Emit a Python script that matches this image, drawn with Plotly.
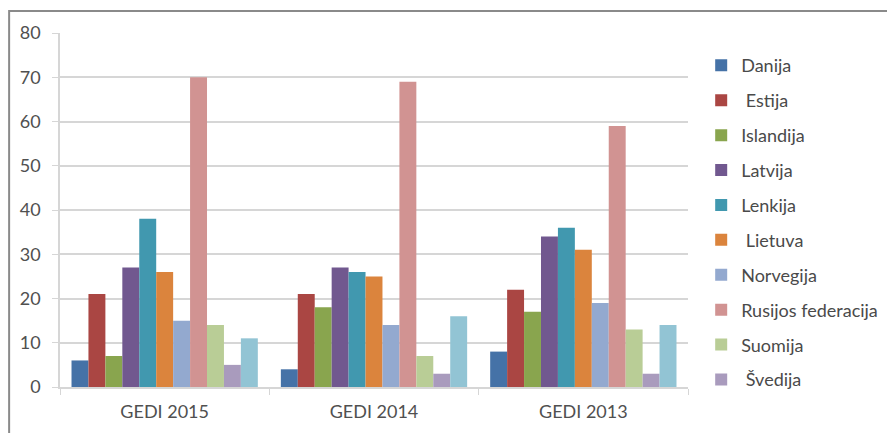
import plotly.graph_objects as go

# categories (x axis groups)
groups = ["GEDI 2015", "GEDI 2014", "GEDI 2013"]

# one list per country, values for 2015 / 2014 / 2013
danija = [6, 4, 8]
estija = [21, 21, 22]
islandija = [7, 18, 17]
latvija = [27, 27, 34]
lenkija = [38, 26, 36]
lietuva = [26, 25, 31]
norvegija = [15, 14, 19]
rusija = [70, 69, 59]
suomija = [14, 7, 13]
svedija = [5, 3, 3]
vokietija = [11, 16, 14]  # 11th series, not shown in the legend

series = [
    ("Danija", danija, "#4572A7", True),
    ("\u00a0Estija", estija, "#AA4643", True),
    ("Islandija", islandija, "#89A54E", True),
    ("Latvija", latvija, "#71588F", True),
    ("Lenkija", lenkija, "#4198AF", True),
    ("\u00a0Lietuva", lietuva, "#DB843D", True),
    ("Norvegija", norvegija, "#93A9CF", True),
    ("Rusijos federacija", rusija, "#D19392", True),
    ("Suomija", suomija, "#B9CD96", True),
    ("\u00a0Švedija", svedija, "#A99BBD", True),
    ("Vokietija", vokietija, "#92C4D4", False),
]

fig = go.Figure()
for i, (name, vals, col, leg) in enumerate(series):
    fig.add_trace(go.Bar(x=groups, y=vals, name=name, marker=dict(color=col, line=dict(width=0)),
                         showlegend=leg, legendgroup="g%d" % i))

fnt = dict(family="Lato, Open Sans, sans-serif", size=18, color="#505050")

# page body has an 8px margin, so the figure is a bit smaller than the window
fig.update_layout(
    width=887, height=425,
    margin=dict(l=52, r=205, t=25, b=46),
    paper_bgcolor="white", plot_bgcolor="white",
    barmode="group", bargap=0.11, bargroupgap=0,
    font=fnt,
    legend=dict(x=1.021, y=0.96, xanchor="left", yanchor="top", tracegroupgap=8.5,
                font=dict(family="Lato, sans-serif", size=18, color="#4a4a4a"),
                itemwidth=30, maxheight=420),
    shapes=[dict(type="rect", xref="paper", yref="paper", x0=-0.081, x1=1.6, y0=-0.5, y1=1.0621,
                 line=dict(color="#8a8a8a", width=2))],
)
fig.update_yaxes(range=[0, 80], dtick=10, showgrid=True, gridcolor="#d6d6d6", gridwidth=1.5,
                 showline=True, linecolor="#d6d6d6", linewidth=1.5, ticks="outside", ticklen=6,
                 tickcolor="#d6d6d6", zeroline=False, ticklabelstandoff=8)
fig.update_xaxes(showline=True, linecolor="#d6d6d6", linewidth=1.5, ticks="outside", ticklen=6,
                 tickcolor="#d6d6d6", tickson="boundaries", ticklabelstandoff=8)

fig.write_html("out.html")
